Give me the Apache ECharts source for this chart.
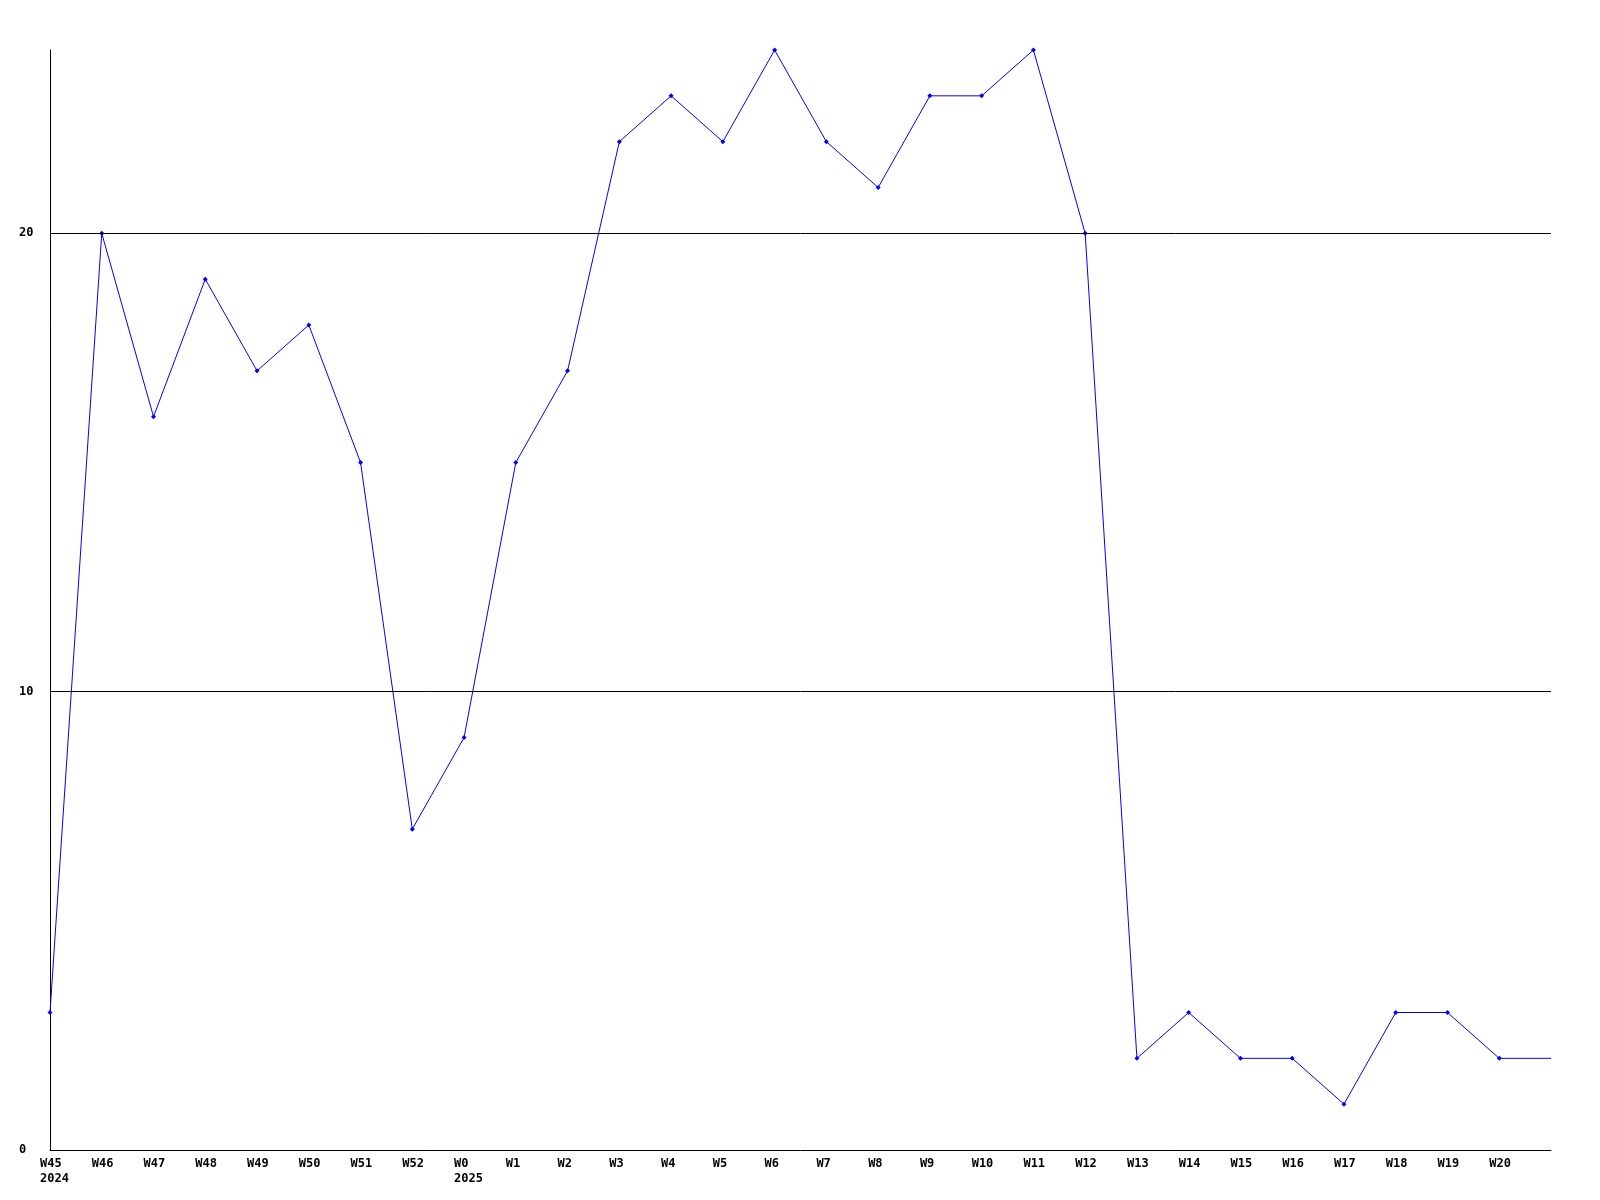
<!DOCTYPE html>
<html><head><meta charset="utf-8">
<script src="https://cdn.jsdelivr.net/npm/echarts@6/dist/echarts.min.js"></script>
<style>html,body{margin:0;padding:0;background:#fff}#c{width:1600px;height:1200px}</style>
</head><body><div id="c"></div>
<script>
const weeks = ['W45','W46','W47','W48','W49','W50','W51','W52','W0','W1','W2','W3','W4','W5','W6','W7','W8','W9','W10','W11','W12','W13','W14','W15','W16','W17','W18','W19','W20',''];
const years = {'W45':'2024','W0':'2025'};
const values = [3,20,16,19,17,18,15,7,9,15,17,22,23,22,24,22,21,23,23,24,20,2,3,2,2,1,3,3,2,2];
const gridLines = [10,20];
const yTicks = {min:0, max:24, interval:10};

const font = {fontFamily:'DejaVu Sans Mono', fontWeight:'bold', fontSize:12, color:'#000'};
const chart = echarts.init(document.getElementById('c'), null, {renderer:'canvas'});
chart.setOption({
  animation:false,
  grid:{left:50, right:49, top:50, bottom:50, containLabel:false},
  xAxis:{type:'category', data:weeks, boundaryGap:false,
    axisLine:{show:true, lineStyle:{color:'#000', width:1}},
    axisTick:{show:false}, splitLine:{show:false},
    axisLabel:{interval:0, margin:6, align:'center',
      formatter:function(v){ if(!v) return ''; return '{a|'+v+'}' + (years[v] ? '\n{a|'+years[v]+'}' : ''); },
      rich:{a:Object.assign({width:20, align:'left', lineHeight:15}, font)}}
  },
  yAxis:{type:'value', min:yTicks.min, max:yTicks.max, interval:yTicks.interval,
    axisLine:{show:true, lineStyle:{color:'#000', width:1}},
    axisTick:{show:false}, splitLine:{show:false},
    axisLabel:Object.assign({align:'left', margin:31, showMaxLabel:false,
      formatter:function(v){ return (v%10===0) ? String(v) : ''; }}, font)
  },
  series:[{type:'line', data:values.map((v,i)=> i===values.length-1 ? {value:v, symbol:'none'} : v),
    symbol:'diamond', symbolSize:5, showAllSymbol:true,
    itemStyle:{color:'#0000ff'}, lineStyle:{color:'#0000ff', width:1},
    markLine:{silent:true, symbol:'none', label:{show:false},
      lineStyle:{color:'#000', width:1, type:'solid'},
      data:gridLines.map(g=>({yAxis:g}))}
  }]
});
</script></body></html>
